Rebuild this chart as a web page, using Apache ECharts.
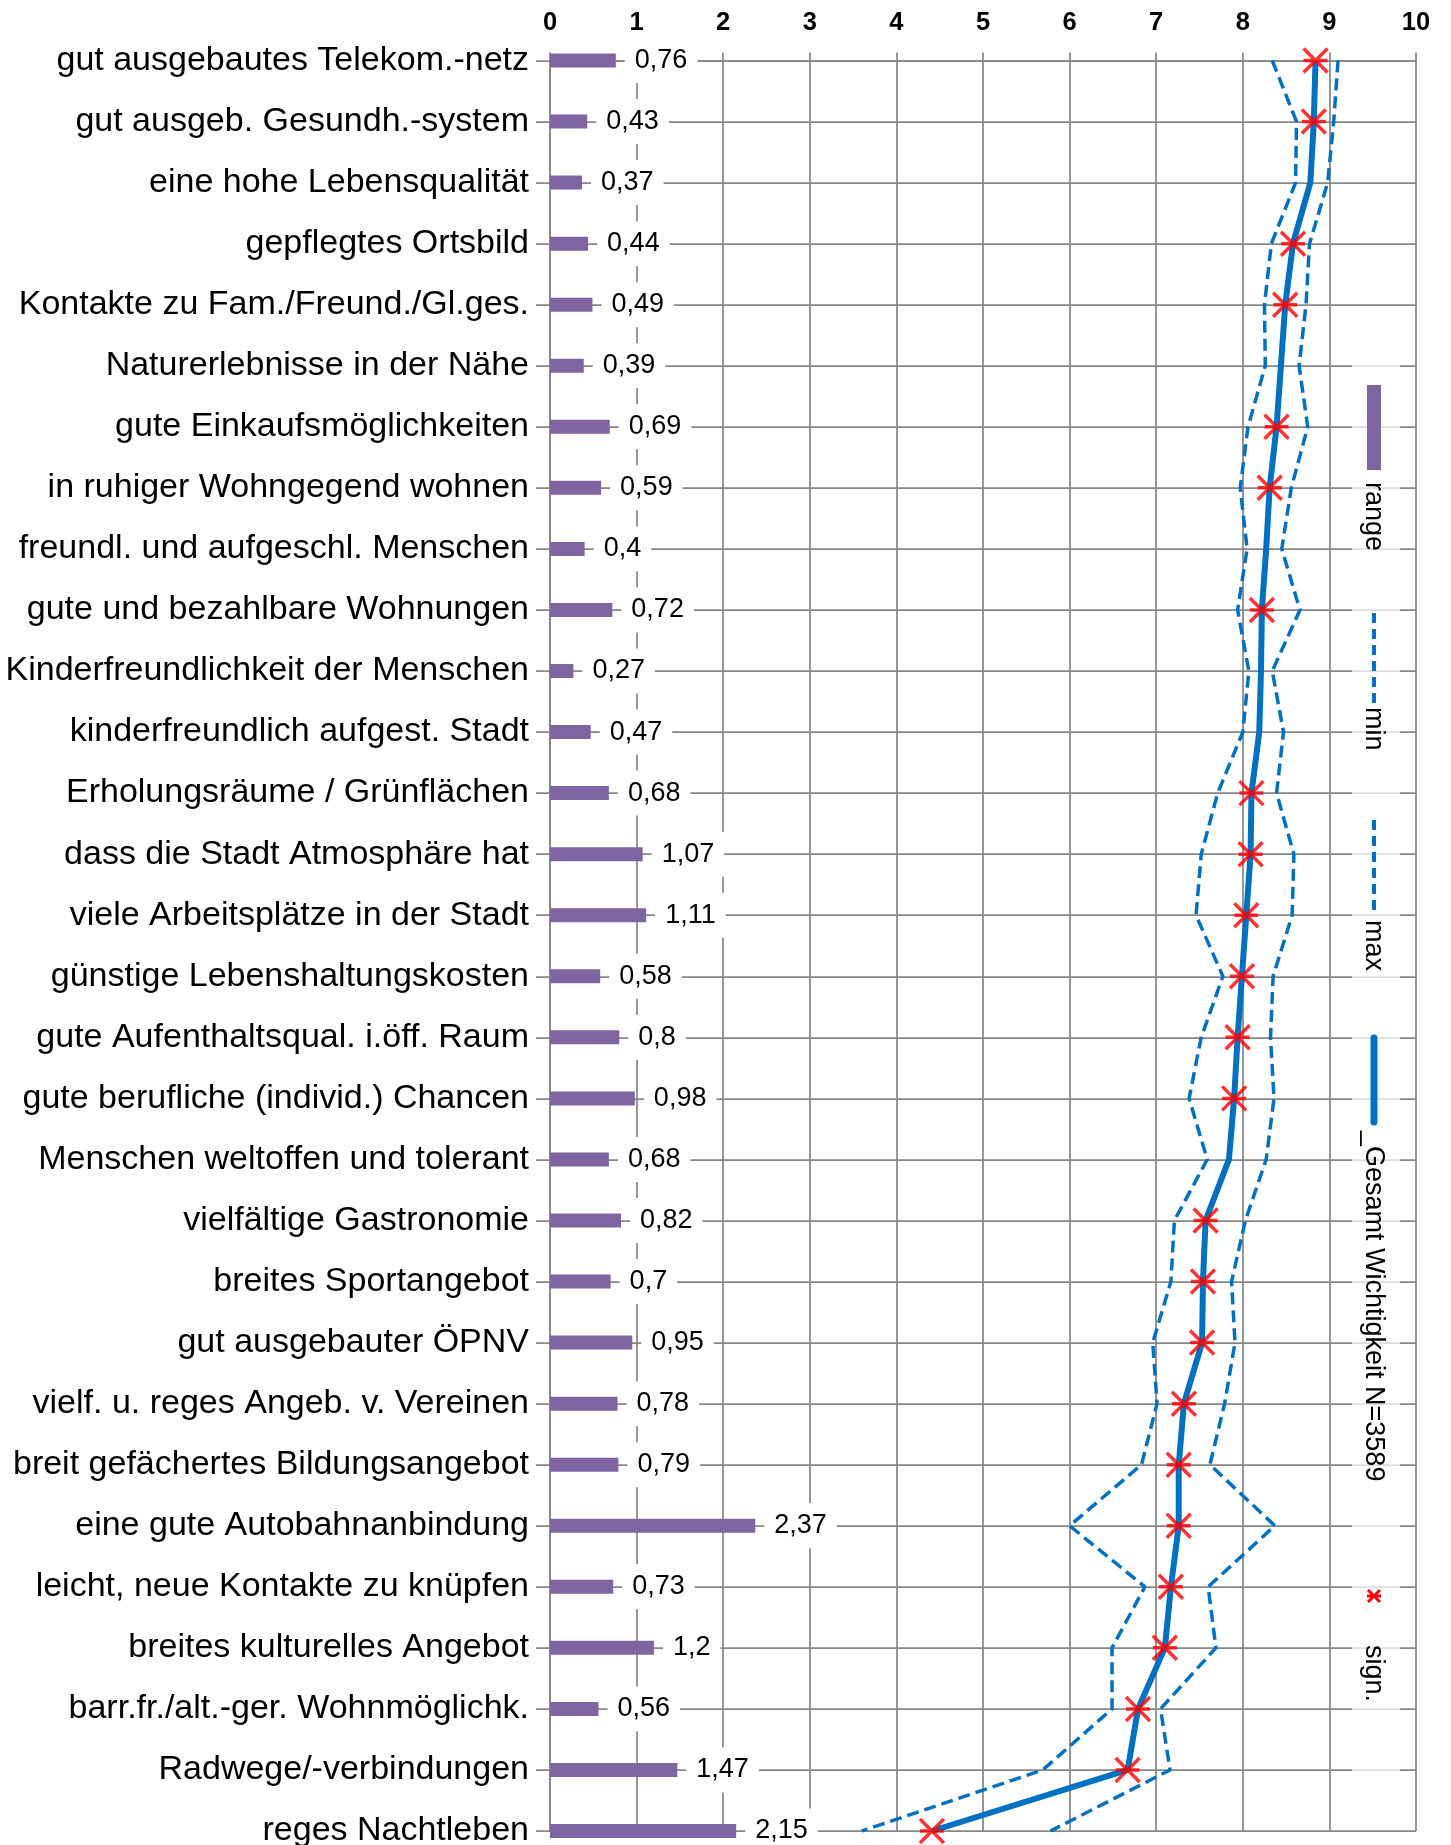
<!DOCTYPE html>
<html lang="de">
<head>
<meta charset="UTF-8">
<title>Wichtigkeit der Standortfaktoren</title>
<script src="https://cdn.jsdelivr.net/npm/echarts@6/dist/echarts.min.js"></script>
<style>
  html, body { margin: 0; padding: 0; background: #fff; }
  #main { width: 1451px; height: 1845px; }
</style>
</head>
<body>
<div id="main"></div>
<script>
// Daten (von oben nach unten)
var categories = [
  'gut ausgebautes Telekom.-netz', 'gut ausgeb. Gesundh.-system', 'eine hohe Lebensqualität',
  'gepflegtes Ortsbild', 'Kontakte zu Fam./Freund./Gl.ges.', 'Naturerlebnisse in der Nähe',
  'gute Einkaufsmöglichkeiten', 'in ruhiger Wohngegend wohnen', 'freundl. und aufgeschl. Menschen',
  'gute und bezahlbare Wohnungen', 'Kinderfreundlichkeit der Menschen', 'kinderfreundlich aufgest. Stadt',
  'Erholungsräume / Grünflächen', 'dass die Stadt Atmosphäre hat', 'viele Arbeitsplätze in der Stadt',
  'günstige Lebenshaltungskosten', 'gute Aufenthaltsqual. i.öff. Raum', 'gute berufliche (individ.) Chancen',
  'Menschen weltoffen und tolerant', 'vielfältige Gastronomie', 'breites Sportangebot',
  'gut ausgebauter ÖPNV', 'vielf. u. reges Angeb. v. Vereinen', 'breit gefächertes Bildungsangebot',
  'eine gute Autobahnanbindung', 'leicht, neue Kontakte zu knüpfen', 'breites kulturelles Angebot',
  'barr.fr./alt.-ger. Wohnmöglichk.', 'Radwege/-verbindungen', 'reges Nachtleben'
];
var range = [0.76, 0.43, 0.37, 0.44, 0.49, 0.39, 0.69, 0.59, 0.4, 0.72,
             0.27, 0.47, 0.68, 1.07, 1.11, 0.58, 0.8, 0.98, 0.68, 0.82,
             0.7, 0.95, 0.78, 0.79, 2.37, 0.73, 1.2, 0.56, 1.47, 2.15];
var minVals = [8.34, 8.62, 8.61, 8.33, 8.25, 8.26, 8.06, 7.97, 8.05, 7.94,
               8.07, 8.00, 7.71, 7.52, 7.46, 7.77, 7.52, 7.38, 7.59, 7.21,
               7.17, 6.96, 7.01, 6.83, 6.00, 6.87, 6.49, 6.49, 5.69, 3.60];
var maxVals = [9.10, 9.05, 8.98, 8.77, 8.73, 8.65, 8.75, 8.56, 8.45, 8.66,
               8.34, 8.47, 8.39, 8.59, 8.57, 8.35, 8.32, 8.36, 8.27, 8.03,
               7.87, 7.91, 7.79, 7.62, 8.37, 7.60, 7.69, 7.05, 7.16, 5.78];
var gesamt = [8.84, 8.82, 8.78, 8.58, 8.49, 8.44, 8.39, 8.31, 8.27, 8.22,
              8.21, 8.19, 8.10, 8.09, 8.04, 7.99, 7.94, 7.90, 7.84, 7.57,
              7.54, 7.53, 7.32, 7.26, 7.26, 7.17, 7.10, 6.79, 6.67, 4.41];
// 1 = signifikant
var sign = [1, 1, 0, 1, 1, 0, 1, 1, 0, 1,
            0, 0, 1, 1, 1, 1, 1, 1, 0, 1,
            1, 1, 1, 1, 1, 1, 1, 1, 1, 1];
var legendNames = ['range', 'min', 'max', '_Gesamt Wichtigkeit N=3589', 'sign.'];

var FONT = '"Liberation Sans", Arial, sans-serif';
var GRID_COLOR = '#878787';
var BLUE = '#0070C0';
var RED = '#FF0000';
var PURPLE = '#8064A2';

var signData = gesamt.map(function (v, i) { return sign[i] ? v : '-'; });

var chart = echarts.init(document.getElementById('main'));

// Legende (gedreht, wie im Original)
function legendText(txt, y) {
  return {
    type: 'text', x: 1373, y: y, rotation: -Math.PI / 2, z: 101,
    style: { text: txt, fontSize: 27, fontFamily: FONT, fill: '#000',
             textAlign: 'left', align: 'left', textVerticalAlign: 'middle', verticalAlign: 'middle' }
  };
}
function legendLine(y1, y2, w, dash) {
  return {
    type: 'line', z: 101,
    shape: { x1: 1374, y1: y1, x2: 1374, y2: y2 },
    style: { stroke: BLUE, lineWidth: w, lineDash: dash, lineCap: dash ? 'butt' : 'round' }
  };
}
var legendGraphics = [
  { type: 'rect', z: 100, shape: { x: 1352, y: 350, width: 48, height: 1425 },
    style: { fill: 'rgba(255,255,255,0.72)' } },
  { type: 'rect', z: 101, shape: { x: 1367, y: 385, width: 14, height: 85 }, style: { fill: PURPLE } },
  legendText(legendNames[0], 482),
  legendLine(613, 703, 4, [10, 6]),
  legendText(legendNames[1], 707),
  legendLine(820, 911, 4, [10, 6]),
  legendText(legendNames[2], 920),
  legendLine(1038, 1122, 7, null),
  legendText(legendNames[3], 1131),
  { type: 'line', z: 101, shape: { x1: 1368, y1: 1590, x2: 1380, y2: 1602 }, style: { stroke: RED, lineWidth: 3 } },
  { type: 'line', z: 101, shape: { x1: 1380, y1: 1590, x2: 1368, y2: 1602 }, style: { stroke: RED, lineWidth: 3 } },
  { type: 'line', z: 101, shape: { x1: 1367, y1: 1596, x2: 1381, y2: 1596 }, style: { stroke: RED, lineWidth: 3 } },
  legendText(legendNames[4], 1645)
];

var option = {
  animation: false,
  backgroundColor: '#fff',
  textStyle: { fontFamily: FONT },
  grid: { left: 550, right: 35, top: 60.5, bottom: 14, outerBoundsMode: 'none' },
  xAxis: {
    type: 'value', position: 'top', min: 0, max: 10, interval: 1,
    axisLine: { show: true, lineStyle: { color: GRID_COLOR, width: 1.75 } },
    axisTick: { show: true, length: 8, lineStyle: { color: GRID_COLOR, width: 1.75 } },
    axisLabel: { color: '#000', fontSize: 25.5, fontWeight: 'bold', fontFamily: FONT, margin: 25 },
    splitLine: { show: true, lineStyle: { color: GRID_COLOR, width: 1.75 } }
  },
  yAxis: {
    type: 'category', data: categories, inverse: true, boundaryGap: false,
    axisLine: { show: true, lineStyle: { color: GRID_COLOR, width: 1.75 } },
    axisTick: { show: true, length: 14, lineStyle: { color: GRID_COLOR, width: 1.75 } },
    axisLabel: { color: '#000', fontSize: 34, fontFamily: FONT, margin: 21, interval: 0 },
    splitLine: { show: true, lineStyle: { color: GRID_COLOR, width: 1.75 } }
  },
  series: [
    {
      name: legendNames[0], type: 'bar', data: range, barWidth: 14, z: 2,
      itemStyle: { color: PURPLE },
      label: {
        show: true, position: 'right', distance: 9, color: '#000', fontSize: 27, fontFamily: FONT,
        backgroundColor: '#fff', padding: [9, 10],
        formatter: function (p) { return String(p.value).replace('.', ','); }
      }
    },
    {
      name: legendNames[1], type: 'line', data: minVals, showSymbol: false, z: 3,
      lineStyle: { color: BLUE, width: 3.5, type: [12, 6] }
    },
    {
      name: legendNames[2], type: 'line', data: maxVals, showSymbol: false, z: 3,
      lineStyle: { color: BLUE, width: 3.5, type: [12, 6] }
    },
    {
      name: legendNames[3], type: 'line', data: gesamt, showSymbol: false, z: 4,
      lineStyle: { color: BLUE, width: 6 }
    },
    {
      name: legendNames[4], type: 'scatter', data: signData, z: 5,
      symbol: 'path://M0,0L24,24M24,0L0,24M0,12L24,12', symbolSize: 24,
      itemStyle: { color: 'transparent', borderColor: RED, borderWidth: 3.5 }
    }
  ],
  graphic: legendGraphics
};

chart.setOption(option);
</script>
</body>
</html>
